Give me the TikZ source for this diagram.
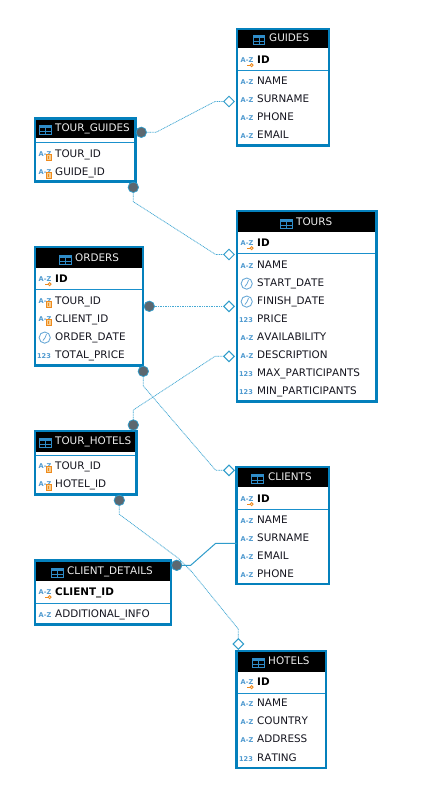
\documentclass[tikz,border=0pt]{standalone}
\usepackage{fontspec}
\setmainfont[Kerning=Off]{DejaVu Sans}
\usetikzlibrary{shapes.geometric}
\definecolor{edgeblue}{HTML}{0480BC}
\definecolor{sepblue}{HTML}{1A90CC}
\definecolor{linkblue}{HTML}{2F9CCB}
\definecolor{softblue}{HTML}{45A9D4}
\definecolor{iconblue}{HTML}{4F9AD0}
\definecolor{tblblue}{HTML}{2F8CC8}
\definecolor{keyorange}{HTML}{EE8A1E}
\definecolor{keyfill}{HTML}{F8CE8E}
\definecolor{dotgray}{HTML}{5C676F}
\definecolor{inkdark}{HTML}{14141E}
\newcounter{itemno}
\tikzset{
  tablebox/.style={draw=edgeblue,line width=2.4pt,fill=white,inner sep=0pt,outer sep=0pt,anchor=north west},
  headband/.style={fill=black,inner sep=0pt,outer sep=0pt,anchor=north west},
  seprule/.style={draw=sepblue,line width=.9pt},
  coltext/.style={anchor=base west,inner sep=0pt,text=inkdark,font=\fontsize{10.4}{12}\selectfont},
  keytext/.style={coltext,font=\fontsize{10.4}{12}\selectfont\bfseries,text=black},
  headtext/.style={coltext,text=white!93!black},
  iconlabel/.style={inner sep=0pt,text=iconblue,font=\fontsize{6.6}{7}\selectfont\bfseries},
  enddot/.style={circle,fill=dotgray,draw=linkblue,line width=.7pt,minimum size=10.5pt,inner sep=0pt,outer sep=0pt},
  enddiamond/.style={diamond,fill=white,draw=linkblue,line width=1pt,minimum size=10.5pt,inner sep=0pt,outer sep=0pt},
  softlink/.style={draw=softblue,line width=.75pt,dash pattern=on 1pt off .7pt},
  hardlink/.style={draw=linkblue,line width=1pt},
}
% name, x1, y1, x2, y2, header bottom, separator y
\newcommand{\dbtable}[7]{%
  \pgfmathsetmacro{\boxw}{#4-#2-2.4}\pgfmathsetmacro{\boxh}{#5-#3-2.4}%
  \pgfmathsetmacro{\bandw}{#4-#2-4.8}\pgfmathsetmacro{\bandh}{#6-#3-2.4}%
  \node[tablebox,minimum width=\boxw pt,minimum height=\boxh pt] (#1) at (#2+1.2,#3+1.2) {};
  \node[headband,minimum width=\bandw pt,minimum height=\bandh pt] (#1-head) at (#2+2.4,#3+2.4) {};
  \draw[seprule] (#2+2.4,#7) -- (#4-2.4,#7);
}
\newcommand{\colname}[4][coltext]{\stepcounter{itemno}\node[#1] (txt\theitemno) at (#2,#3+4.5) {#4};}
\newcommand{\azmark}[2]{\stepcounter{itemno}\node[iconlabel] (ico\theitemno) at (#1-10,#2+2) {A-Z};}
\newcommand{\pkmark}[2]{\stepcounter{itemno}\node[iconlabel] (ico\theitemno) at (#1-10,#2+1) {A-Z};
  \draw[keyorange,line width=.9pt] (#1-10,#2+6.2) -- (#1-7,#2+6.2);
  \draw[keyorange,line width=.9pt] (#1-5.4,#2+6.2) circle (1.5pt);}
\newcommand{\fkmark}[2]{\stepcounter{itemno}\node[iconlabel] (ico\theitemno) at (#1-10,#2+1.5) {A-Z};
  \draw[keyorange,fill=keyfill,line width=.9pt] (#1-9,#2+1.5) rectangle (#1-3.5,#2+7.5);
  \draw[keyorange,line width=.7pt] (#1-6.2,#2+2.8) -- (#1-6.2,#2+6.2);}
\newcommand{\clockmark}[2]{\draw[iconblue!85,line width=.9pt] (#1-10.3,#2+1.6) circle (5.6pt);
  \draw[iconblue!85,line width=.8pt] (#1-12,#2+4.5) -- (#1-10,#2+1.8) -- (#1-8.5,#2-1.8);}
\newcommand{\nummark}[2]{\stepcounter{itemno}\node[iconlabel] (ico\theitemno) at (#1-11,#2+2) {123};}
\newcommand{\tblmark}[2]{%
  \fill[tblblue] (#1,#2-4.2) rectangle (#1+12.6,#2-1);
  \draw[tblblue,line width=1pt] (#1+.5,#2-4) rectangle (#1+12.1,#2+5.4);
  \draw[tblblue,line width=.9pt] (#1+.5,#2+2.2) -- (#1+12.1,#2+2.2) (#1+6.3,#2-1) -- (#1+6.3,#2+5.4);}
% text x, row y, text
\newcommand{\rowaz}[3]{\azmark{#1}{#2}\colname{#1}{#2}{#3}}
\newcommand{\rowpk}[3]{\pkmark{#1}{#2}\colname[keytext]{#1}{#2}{#3}}
\newcommand{\rowfk}[3]{\fkmark{#1}{#2}\colname{#1}{#2}{#3}}
\newcommand{\rowdt}[3]{\clockmark{#1}{#2}\colname{#1}{#2}{#3}}
\newcommand{\rownum}[3]{\nummark{#1}{#2}\colname{#1}{#2}{#3}}
% icon x, text x, y, text
\newcommand{\headrow}[4]{\tblmark{#1}{#3+2}\colname[headtext]{#2}{#3}{#4}}
\begin{document}
\begin{tikzpicture}[x=1pt,y=-1pt]
\useasboundingbox (0,0) rectangle (427,790);
\fill[white] (0,0) rectangle (427,790);

\dbtable{guides}{235.5}{27.5}{330}{146.7}{48}{70}
\headrow{252.8}{269}{37}{GUIDES}
\rowpk{257}{59}{ID}
\rowaz{257}{80}{NAME}
\rowaz{257}{98}{SURNAME}
\rowaz{257}{116}{PHONE}
\rowaz{257}{134}{EMAIL}

\dbtable{tours}{235.5}{210}{377.7}{402.5}{232}{253.7}
\headrow{280}{296}{221}{TOURS}
\rowpk{257}{242}{ID}
\rowaz{257}{264}{NAME}
\rowdt{257}{282}{START\_DATE}
\rowdt{257}{300}{FINISH\_DATE}
\rownum{257}{318}{PRICE}
\rowaz{257}{336}{AVAILABILITY}
\rowaz{257}{354}{DESCRIPTION}
\rownum{257}{372}{MAX\_PARTICIPANTS}
\rownum{257}{390}{MIN\_PARTICIPANTS}

\dbtable{tourguides}{34}{117.3}{136.7}{182.7}{138}{142}
\headrow{39.3}{55}{127}{TOUR\_GUIDES}
\rowfk{55}{153}{TOUR\_ID}
\rowfk{55}{171}{GUIDE\_ID}

\dbtable{orders}{34}{246}{144.3}{366.7}{268}{289.7}
\headrow{59}{75}{257}{ORDERS}
\rowpk{55}{278}{ID}
\rowfk{55}{300}{TOUR\_ID}
\rowfk{55}{318}{CLIENT\_ID}
\rowdt{55}{336}{ORDER\_DATE}
\rownum{55}{354}{TOTAL\_PRICE}

\dbtable{tourhotels}{34}{430}{137.7}{495.7}{451.7}{455.7}
\headrow{39.3}{55}{440}{TOUR\_HOTELS}
\rowfk{55}{465}{TOUR\_ID}
\rowfk{55}{483}{HOTEL\_ID}

\dbtable{clientdetails}{34}{559.3}{172}{625.7}{581}{603.3}
\headrow{51.3}{67}{570}{CLIENT\_DETAILS}
\rowpk{55}{591}{CLIENT\_ID}
\rowaz{55}{613}{ADDITIONAL\_INFO}

\dbtable{clients}{235.3}{466}{330}{585}{487.3}{509.3}
\headrow{251.3}{268}{476}{CLIENTS}
\rowpk{257}{498}{ID}
\rowaz{257}{519}{NAME}
\rowaz{257}{537}{SURNAME}
\rowaz{257}{555}{EMAIL}
\rowaz{257}{573}{PHONE}

\dbtable{hotels}{235.3}{650}{327}{769.3}{671.7}{693.3}
\headrow{252}{268}{660}{HOTELS}
\rowpk{257}{681}{ID}
\rowaz{257}{702}{NAME}
\rowaz{257}{720}{COUNTRY}
\rowaz{257}{738}{ADDRESS}
\rownum{257}{757}{RATING}

% relationship ends
\node[enddot] (dotA) at (141.3,132.3) {};
\node[enddiamond] (diaA) at (229,101.5) {};
\node[enddot] (dotB) at (133.3,187.3) {};
\node[enddiamond] (diaB) at (229,254.5) {};
\node[enddot] (dotC) at (149.3,306.3) {};
\node[enddiamond] (diaC) at (229,306.3) {};
\node[enddot] (dotD) at (133.3,425) {};
\node[enddiamond] (diaD) at (229,356.3) {};
\node[enddot] (dotE) at (143.3,371.3) {};
\node[enddiamond] (diaE) at (229,470.3) {};
\node[enddot] (dotF) at (119.3,500.3) {};
\node[enddiamond] (diaF) at (238.3,644) {};
\node[enddot] (dotG) at (176.7,565.3) {};
\coordinate (bendG) at (215.7,543.3);

\draw[softlink] (dotA) -- (156,132.3) -- (215,101.5) -- (diaA);
\draw[softlink] (dotB) -- (133.3,201.7) -- (215.7,254.5) -- (diaB);
\draw[softlink] (dotC) -- (diaC);
\draw[softlink] (dotD) -- (133.3,410) -- (215,356.3) -- (diaD);
\draw[softlink] (dotE) -- (143.3,386) -- (215.7,470.3) -- (diaE);
\draw[softlink] (dotF) -- (119.3,514.3) -- (178,558) -- (192,572) -- (238.3,629) -- (diaF);
\draw[hardlink] (dotG) -- (190.7,565.3) -- (bendG) -- (bendG -| clients.west);
\end{tikzpicture}
\end{document}
